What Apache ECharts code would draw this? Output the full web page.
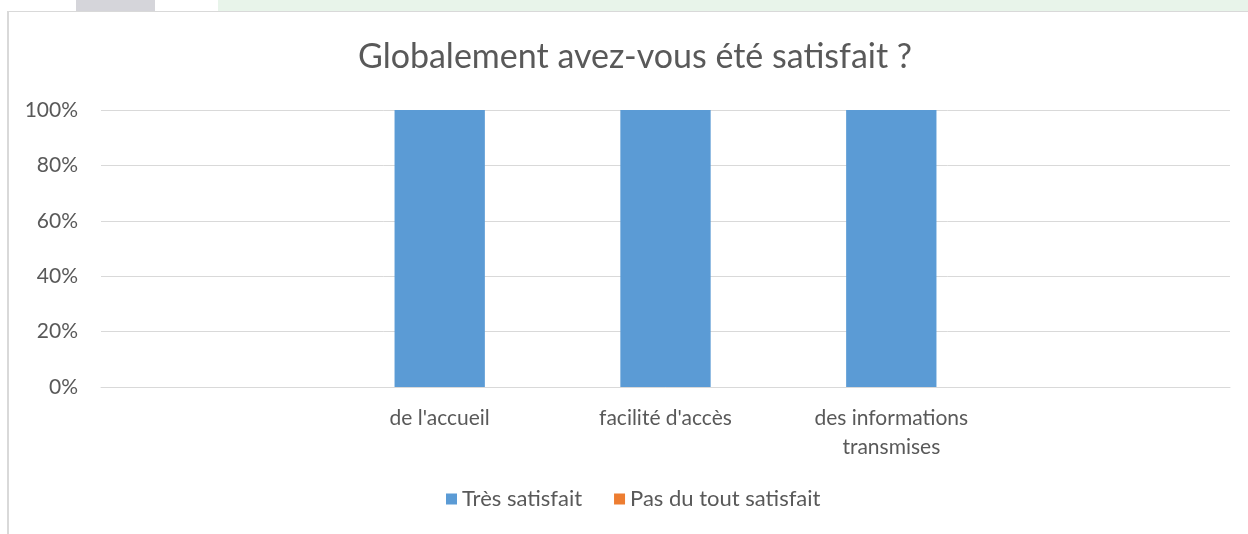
<!DOCTYPE html>
<html lang="fr">
<head>
<meta charset="UTF-8">
<title>Globalement avez-vous été satisfait ?</title>
<script src="https://cdn.jsdelivr.net/npm/echarts@6/dist/echarts.min.js"></script>
<style>
  html, body { margin: 0; padding: 0; background: #fff; }
  body { width: 1248px; height: 534px; position: relative; overflow: hidden; }
  .strip-grey { position: absolute; left: 76px; top: 0; width: 79px; height: 11px; background: #d5d5da; }
  .strip-green { position: absolute; left: 218px; top: 0; right: 0; height: 11px; background: #e8f4ea; }
  .frame { position: absolute; left: 7px; top: 11px; right: 0; bottom: 0;
           border-left: 2px solid #d9d9d9; border-top: 1px solid #d9d9d9; }
  #chart { position: absolute; left: 0; top: 0; width: 1248px; height: 534px; }
</style>
</head>
<body>
<div class="strip-grey"></div>
<div class="strip-green"></div>
<div class="frame"></div>
<div id="chart"></div>
<script>
// données
var categories = ['', "de l'accueil", "facilité d'accès", 'des informations\ntransmises', ''];
var tresSatisfait = [null, 1, 1, 1, null];
var pasDuTout = [null, 0, 0, 0, null];
var yTicks = [0, 0.2, 0.4, 0.6, 0.8, 1];

var font = 'Lato, "Open Sans", sans-serif';
var grey = '#595959';

var chart = echarts.init(document.getElementById('chart'));
chart.setOption({
  backgroundColor: 'transparent',
  animation: false,
  title: {
    text: 'Globalement avez-vous été satisfait ?',
    left: 630,
    top: 35,
    textAlign: 'center',
    textStyle: { fontFamily: font, fontSize: 34, fontWeight: 'normal', color: grey }
  },
  legend: {
    top: 488,
    left: 446,
    padding: 0,
    itemWidth: 11,
    itemHeight: 11,
    itemGap: 32,
    icon: 'rect',
    textStyle: { fontFamily: font, fontSize: 22, color: grey },
    data: ['Très satisfait', 'Pas du tout satisfait']
  },
  grid: { left: 101, top: 110, width: 1129, height: 277, containLabel: false },
  xAxis: {
    type: 'category',
    data: categories,
    axisTick: { show: false },
    axisLine: { lineStyle: { color: '#d9d9d9', width: 1 } },
    axisLabel: { color: grey, fontFamily: font, fontSize: 21, margin: 17, lineHeight: 29, interval: 0 }
  },
  yAxis: {
    type: 'value',
    min: yTicks[0],
    max: yTicks[yTicks.length - 1],
    interval: 0.2,
    axisLine: { show: false },
    axisTick: { show: false },
    splitLine: { lineStyle: { color: '#d9d9d9', width: 1 } },
    axisLabel: {
      color: grey, fontFamily: font, fontSize: 21, margin: 23,
      formatter: function (v) { return Math.round(v * 100) + '%'; }
    }
  },
  series: [
    {
      name: 'Très satisfait', type: 'bar', stack: 'total',
      data: tresSatisfait, barWidth: '40%',
      itemStyle: { color: '#5b9bd5' }
    },
    {
      name: 'Pas du tout satisfait', type: 'bar', stack: 'total',
      data: pasDuTout, barWidth: '40%',
      itemStyle: { color: '#ed7d31' }
    }
  ]
});
</script>
</body>
</html>
